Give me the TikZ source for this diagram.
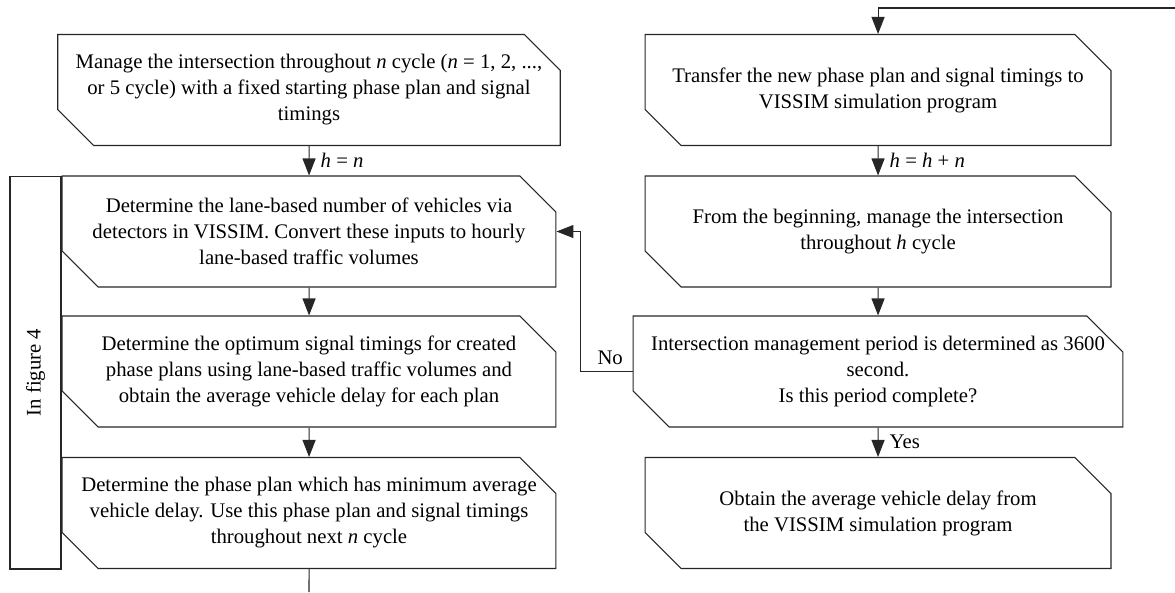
\documentclass[tikz,border=0pt]{standalone}
\usepackage{fontspec}
\setmainfont{Liberation Serif}
\usetikzlibrary{arrows.meta,shapes.misc}

\begin{document}
\begin{tikzpicture}[x=0.02cm,y=-0.02cm,line width=0.6pt,
	font=\fontsize{11.8}{14.8}\selectfont,
	stepbox/.style={chamfered rectangle,chamfered rectangle corners={north east,south west},
		chamfered rectangle xsep=0.36cm,chamfered rectangle ysep=0.36cm,
		draw=black!85,align=center,minimum height=2.22cm,inner sep=0pt},
	leftbox/.style={stepbox,minimum width=9.88cm},
	rightbox/.style={stepbox,minimum width=9.32cm},
	flow/.style={draw=black!85,-{Triangle[length=0.34cm,width=0.26cm]}}]
	\useasboundingbox (0,0) rectangle (1175,592);
	% left column
	\node[leftbox] (manage) at (309,90) {Manage the intersection throughout \textit{n} cycle (\textit{n} = 1, 2, ...,\\ or 5 cycle) with a fixed starting phase plan and signal\\ timings};
	\node[leftbox] (count) at (309,231.5) {Determine the lane-based number of vehicles via\\ detectors in VISSIM. Convert these inputs to hourly\\ lane-based traffic volumes};
	\node[leftbox] (optim) at (309,371.5) {Determine the optimum signal timings for created\\ phase plans using lane-based traffic volumes and\\ obtain the average vehicle delay for each plan};
	\node[leftbox] (choose) at (309,513) {Determine the phase plan which has minimum average\\ vehicle delay. Use this phase plan and signal timings\\ throughout next \textit{n} cycle};
	\node[draw=black!85,rotate=90,minimum width=7.86cm,minimum height=1.02cm,inner sep=0pt] (figref) at (35.5,372.5) {In figure 4};
	% right column
	\node[rightbox] (transfer) at (878,90) {Transfer the new phase plan and signal timings to\\ VISSIM simulation program};
	\node[rightbox] (restart) at (878,231.5) {From the beginning, manage the intersection\\ throughout \textit{h} cycle};
	\node[rightbox] (check) at (878,371.5) {Intersection management period is determined as 3600\\ second.\\ Is this period complete?};
	\node[rightbox] (delay) at (878,513) {Obtain the average vehicle delay from\\ the VISSIM simulation program};
	\coordinate (loopin) at (1175,8);
	\coordinate (loopout) at (309,592);
	% connectors
	\draw[flow] (manage) -- node[right=3pt] {\textit{h} = \textit{n}} (count);
	\draw[flow] (count) -- (optim);
	\draw[flow] (optim) -- (choose);
	\draw[draw=black!85] (choose) -- (loopout);
	\draw[flow] (loopin) -| (transfer);
	\draw[flow] (transfer) -- node[right=3pt] {\textit{h} = \textit{h} + \textit{n}} (restart);
	\draw[flow] (restart) -- (check);
	\draw[flow] (check) -- node[right=3pt] {Yes} (delay);
	\draw[flow] (check.west) -- node[above,xshift=2pt] {No} ++(-52,0) |- (count.east);
\end{tikzpicture}
\end{document}
